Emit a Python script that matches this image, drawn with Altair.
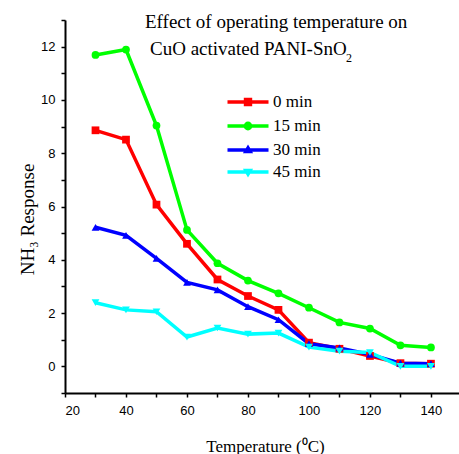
import altair as alt
import pandas as pd

temps = [30, 40, 50, 60, 70, 80, 90, 100, 110, 120, 130, 140]
resp_0 = [8.86, 8.51, 6.07, 4.60, 3.26, 2.64, 2.12, 0.89, 0.66, 0.39, 0.12, 0.10]
resp_15 = [11.69, 11.89, 9.04, 5.12, 3.87, 3.22, 2.74, 2.20, 1.65, 1.42, 0.79, 0.71]
resp_30 = [5.22, 4.92, 4.05, 3.15, 2.87, 2.24, 1.75, 0.85, 0.69, 0.45, 0.12, 0.10]
resp_45 = [2.39, 2.12, 2.05, 1.10, 1.44, 1.21, 1.25, 0.72, 0.57, 0.52, 0.00, 0.00]

series_names = ["0 min", "15 min", "30 min", "45 min"]
series_values = [resp_0, resp_15, resp_30, resp_45]
series_colors = ["#FF0000", "#00FF00", "#0000FF", "#00FFFF"]
chart_shapes = ["square", "circle", "triangle-up", "triangle-down"]

x_ticks = [20, 30, 40, 50, 60, 70, 80, 90, 100, 110, 120, 130, 140]
y_ticks = list(range(-1, 14))

# legend symbols: a line segment with the marker in the middle
LINE = "M-2.93,0H2.93"
legend_shapes = [
    LINE + "M-0.35,-0.35H0.35V0.35H-0.35Z",
    LINE + "M-0.38,0A0.38,0.38 0 1,0 0.38,0A0.38,0.38 0 1,0 -0.38,0Z",
    LINE + "M0,-0.29L0.29,0.20L-0.29,0.20Z",
    LINE + "M0,0.29L0.29,-0.20L-0.29,-0.20Z",
]

rows = []
for name, vals in zip(series_names, series_values):
    for t, v in zip(temps, vals):
        rows.append({"temp": t, "value": v, "series": name})
df = pd.DataFrame(rows)

SERIF = "Liberation Serif"
SANS = "Liberation Sans"

x_enc = alt.X(
    "temp:Q",
    scale=alt.Scale(domain=[20, 149.2], nice=False, zero=False),
    axis=alt.Axis(
        values=x_ticks,
        tickCount=40,
        format="d",
        labelExpr="datum.value % 20 == 0 ? datum.label : ''",
        labelOverlap=False,
        title="Temperature (⁰C)",
        titleFont=SERIF,
        titleFontSize=17,
        titleFontWeight="normal",
        titleColor="black",
        titleBaseline="alphabetic",
        titleX=200,
        titleY=58,
        labelFont=SANS,
        labelFontSize=13,
        labelColor="black",
        labelPadding=7,
        tickSize=4,
        tickColor="black",
        tickWidth=1.5,
        domainColor="black",
        domainWidth=2,
        grid=False,
    ),
)
y_enc = alt.Y(
    "value:Q",
    scale=alt.Scale(domain=[-1, 13], nice=False, zero=False),
    axis=alt.Axis(
        values=y_ticks,
        tickCount=40,
        format="d",
        labelExpr="datum.value % 2 == 0 ? datum.label : ''",
        labelOverlap=False,
        title="NH₃  Response",
        titleFont=SERIF,
        titleFontSize=19,
        titleFontWeight="normal",
        titleColor="black",
        titleBaseline="alphabetic",
        titleAngle=270,
        titleAlign="center",
        titleX=-32,
        titleY=199,
        labelFont=SANS,
        labelFontSize=13,
        labelColor="black",
        labelPadding=6,
        tickSize=4,
        tickColor="black",
        tickWidth=1.5,
        domainColor="black",
        domainWidth=2,
        grid=False,
    ),
)

color_scale = alt.Scale(domain=series_names, range=series_colors)

base = alt.Chart(df)

lines = base.mark_line(strokeWidth=3.5).encode(
    x=x_enc,
    y=y_enc,
    color=alt.Color("series:N", scale=color_scale, legend=None),
    detail="series:N",
)

points = base.mark_point(filled=True, opacity=1, size=60).encode(
    x="temp:Q",
    y="value:Q",
    color=alt.Color("series:N", scale=color_scale, legend=None),
    shape=alt.Shape("series:N", scale=alt.Scale(domain=series_names, range=chart_shapes), legend=None),
)

leg = dict(
    orient="none",
    legendX=174,
    legendY=73,
    title=None,
    padding=0,
    symbolSize=196,
    symbolStrokeWidth=3.5,
    symbolOpacity=1,
    labelFont=SERIF,
    labelFontSize=17,
    labelColor="black",
    labelOffset=16,
    rowPadding=4,
    labelLimit=0,
)

legend_layer = base.mark_point(filled=True, size=196, strokeWidth=3.5).encode(
    x="temp:Q",
    y="value:Q",
    opacity=alt.value(0),
    fill=alt.Fill("series:N", scale=color_scale, legend=alt.Legend(**leg)),
    stroke=alt.Stroke("series:N", scale=color_scale, legend=alt.Legend(**leg)),
    shape=alt.Shape("series:N", scale=alt.Scale(domain=series_names, range=legend_shapes), legend=alt.Legend(**leg)),
)

one = alt.Data(values=[{}])
title1 = alt.Chart(one).mark_text(
    text="Effect of operating temperature on", font=SERIF, fontSize=19,
    align="left", baseline="alphabetic", color="black",
).encode(x=alt.value(80), y=alt.value(8))
title2 = alt.Chart(one).mark_text(
    text="CuO activated PANI-SnO", font=SERIF, fontSize=19,
    align="left", baseline="alphabetic", color="black",
).encode(x=alt.value(85), y=alt.value(35))
title2sub = alt.Chart(one).mark_text(
    text="2", font=SERIF, fontSize=12,
    align="left", baseline="alphabetic", color="black",
).encode(x=alt.value(281), y=alt.value(42))

chart = alt.layer(lines, points, legend_layer, title1, title2, title2sub).resolve_scale(
    shape="independent", fill="independent", stroke="independent"
).properties(
    width=394,
    height=373,
    padding={"left": 65, "top": 20, "right": 0, "bottom": 61},
    autosize=alt.AutoSizeParams(type="none"),
    background="white",
).configure_view(stroke=None)

chart.save("out.html", embed_options={"renderer": "svg", "actions": False})
